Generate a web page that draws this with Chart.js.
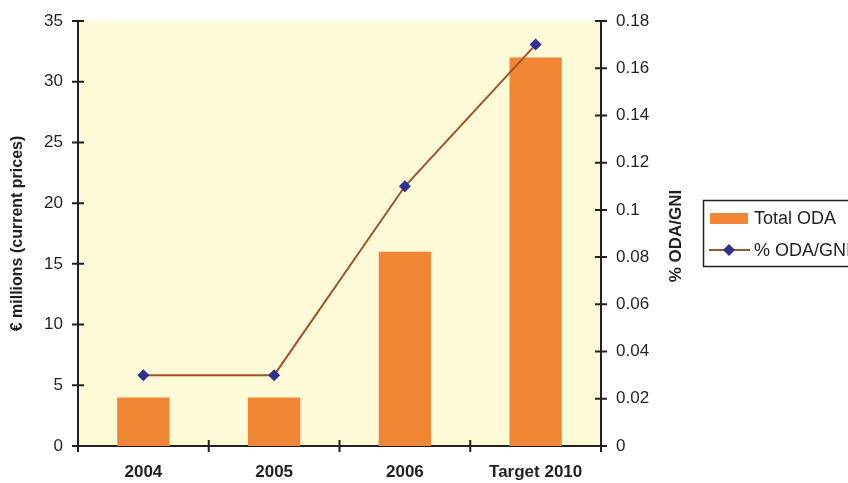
<!DOCTYPE html>
<html>
<head>
<meta charset="utf-8">
<script src="https://cdn.jsdelivr.net/npm/chart.js@4"></script>
<style>
  html, body { margin: 0; padding: 0; background: #fff; overflow: hidden; }
  #wrap { position: relative; width: 848px; height: 483px; }
</style>
</head>
<body>
<div id="wrap"><canvas id="chart" width="848" height="483"></canvas></div>
<script>
// data
const categories = ["2004", "2005", "2006", "Target 2010"];
const totalOda = [4, 4, 16, 32];          // € millions
const odaGni = [0.03, 0.03, 0.11, 0.17];  // % ODA/GNI

const FONT = "'Liberation Sans', Arial, sans-serif";
const PLOT_BG = "#FEF9D6";
const BAR = "#F08533";
const LINE = "#A3522A";
const MARK = "#2E3192";
const INK = "#231F20";

// pale yellow plot area + crossing tick marks + axis titles + boxed legend
const decor = {
  id: "decor",
  beforeDraw(chart) {
    const { ctx, chartArea: a } = chart;
    ctx.save();
    ctx.fillStyle = PLOT_BG;
    ctx.fillRect(a.left, a.top, a.right - a.left, a.bottom - a.top);
    ctx.restore();
  },
  afterDraw(chart) {
    const { ctx, chartArea: a, scales } = chart;
    ctx.save();
    ctx.strokeStyle = INK;
    ctx.lineWidth = 2;
    ctx.beginPath();
    scales.y.ticks.forEach((t, i) => {
      const y = scales.y.getPixelForTick(i);
      ctx.moveTo(a.left - 6, y); ctx.lineTo(a.left + 6, y);
    });
    scales.y1.ticks.forEach((t, i) => {
      const y = scales.y1.getPixelForTick(i);
      ctx.moveTo(a.right - 6, y); ctx.lineTo(a.right + 6, y);
    });
    const step = (a.right - a.left) / categories.length;
    for (let i = 0; i <= categories.length; i++) {
      const x = a.left + i * step;
      ctx.moveTo(x, a.bottom - 6); ctx.lineTo(x, a.bottom + 6);
    }
    ctx.stroke();

    // axis titles
    ctx.fillStyle = INK;
    ctx.font = "bold 16px " + FONT;
    ctx.textAlign = "center";
    ctx.textBaseline = "middle";
    ctx.translate(18, (a.top + a.bottom) / 2);
    ctx.rotate(-Math.PI / 2);
    ctx.fillText("€ millions (current prices)", 0, 0);
    ctx.setTransform(1, 0, 0, 1, 0, 0);
    ctx.font = "bold 17px " + FONT;
    ctx.translate(676, 236);
    ctx.rotate(-Math.PI / 2);
    ctx.fillText("% ODA/GNI", 0, 0);
    ctx.setTransform(1, 0, 0, 1, 0, 0);

    // legend
    const ds = chart.data.datasets;
    ctx.lineWidth = 1.5;
    ctx.strokeStyle = INK;
    ctx.strokeRect(703.5, 200.5, 170, 66);
    ctx.fillStyle = BAR;
    ctx.fillRect(710, 213, 38, 11);
    ctx.strokeStyle = LINE;
    ctx.lineWidth = 2;
    ctx.beginPath(); ctx.moveTo(709, 250); ctx.lineTo(750, 250); ctx.stroke();
    ctx.fillStyle = MARK;
    ctx.beginPath();
    ctx.moveTo(729, 244); ctx.lineTo(735, 250); ctx.lineTo(729, 256); ctx.lineTo(723, 250);
    ctx.closePath(); ctx.fill();
    ctx.fillStyle = INK;
    ctx.font = "18px " + FONT;
    ctx.textAlign = "left";
    ctx.fillText(ds[0].label, 754, 219);
    ctx.fillText(ds[1].label, 754, 251);
    ctx.restore();
  }
};

new Chart(document.getElementById("chart").getContext("2d"), {
  type: "bar",
  data: {
    labels: categories,
    datasets: [
      {
        type: "bar",
        label: "Total ODA",
        data: totalOda,
        backgroundColor: BAR,
        yAxisID: "y",
        barPercentage: 0.8,
        categoryPercentage: 0.5,
        order: 1
      },
      {
        type: "line",
        label: "% ODA/GNI",
        data: odaGni,
        borderColor: LINE,
        borderWidth: 2,
        pointStyle: "rectRot",
        pointRadius: 6,
        pointBackgroundColor: MARK,
        pointBorderColor: MARK,
        pointBorderWidth: 0,
        tension: 0,
        yAxisID: "y1",
        order: 0
      }
    ]
  },
  options: {
    responsive: false,
    animation: false,
    layout: { padding: { top: 21, right: 157, left: 0, bottom: 0 } },
    plugins: { legend: { display: false }, tooltip: { enabled: false } },
    scales: {
      x: {
        offset: true,
        grid: { display: false },
        border: { color: INK, width: 2 },
        ticks: { color: INK, font: { family: FONT, size: 17, weight: "bold" }, padding: 8, maxRotation: 0 },
        afterFit: s => { s.height = 37; s.paddingLeft = 0; s.paddingRight = 0; }
      },
      y: {
        position: "left",
        min: 0, max: 35,
        grid: { display: false },
        border: { color: INK, width: 2 },
        ticks: { stepSize: 5, color: INK, font: { family: FONT, size: 17 }, padding: 7 },
        afterFit: s => { s.width = 78; s.paddingTop = 0; s.paddingBottom = 0; }
      },
      y1: {
        position: "right",
        min: 0, max: 0.18,
        grid: { display: false },
        border: { color: INK, width: 2 },
        ticks: {
          stepSize: 0.02, color: INK, font: { family: FONT, size: 17 }, padding: 7,
          callback: v => String(parseFloat(v.toFixed(2)))
        },
        afterFit: s => { s.width = 90; s.paddingTop = 0; s.paddingBottom = 0; }
      }
    }
  },
  plugins: [decor]
});
</script>
</body>
</html>
